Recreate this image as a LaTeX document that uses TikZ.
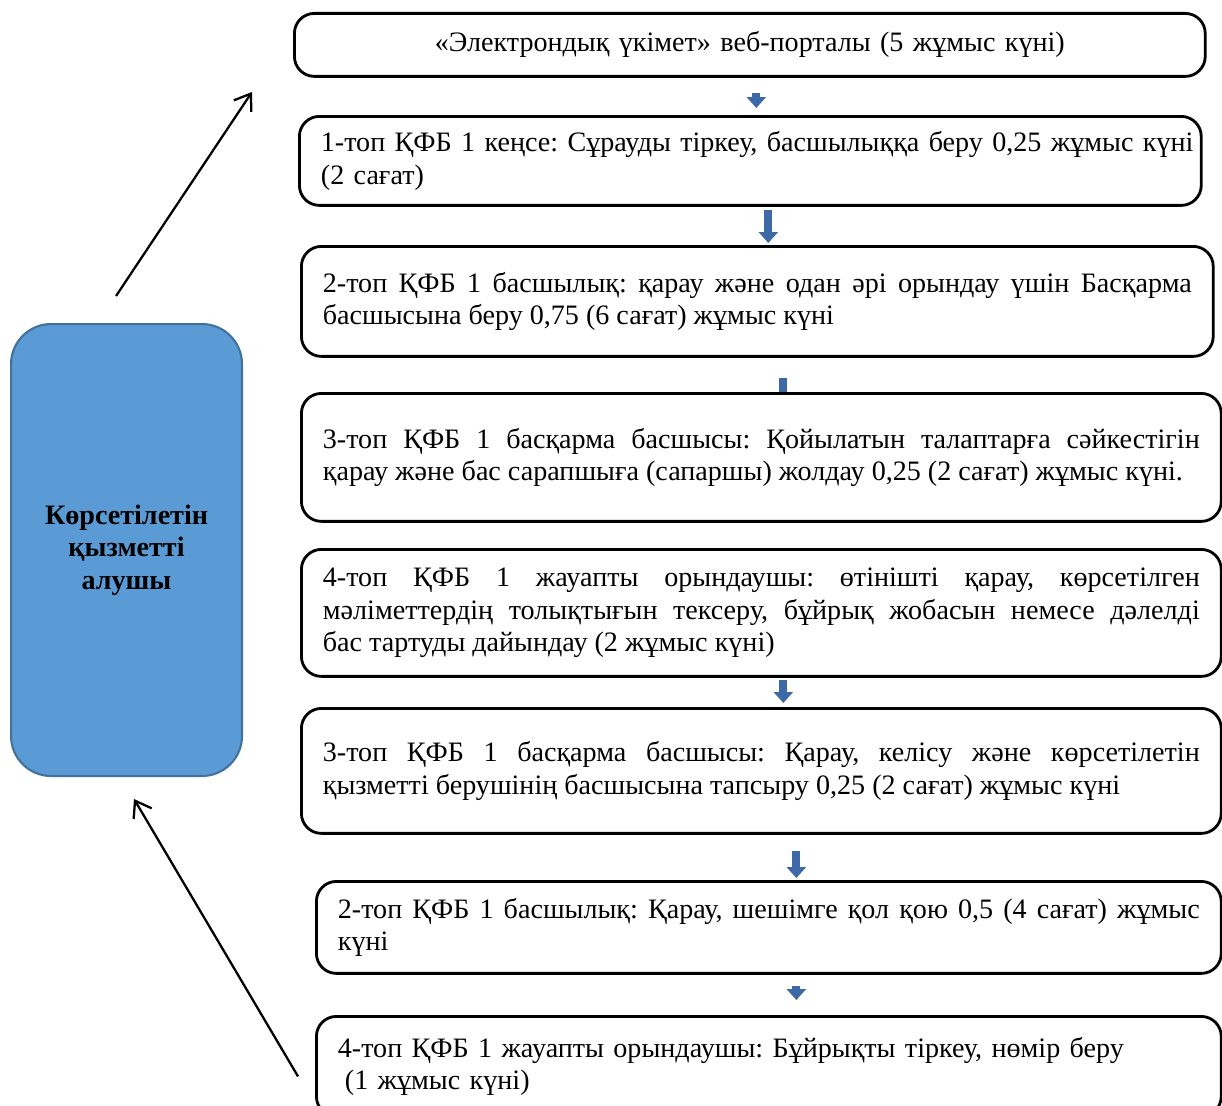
\documentclass[tikz,border=0pt]{standalone}
\usepackage{fontspec}
\setmainfont{Liberation Serif}
\usepackage{tikz}
\usetikzlibrary{positioning, arrows.meta}
\definecolor{clientblue}{HTML}{5B9BD5}
\definecolor{clientedge}{HTML}{41719C}
\definecolor{flowblue}{HTML}{3D69A7}
\frenchspacing
\newcommand{\boxfont}{\fontsize{16pt}{18.4pt}\selectfont\hyphenpenalty=10000}
\begin{document}
\begin{tikzpicture}[x=0.02cm, y=-0.02cm,
    stage/.style={draw, line width=1.6pt, rounded corners=0.4cm, anchor=north west,
      inner xsep=0.43cm, inner ysep=0pt, align=justify, font=\boxfont},
    client/.style={draw=clientedge, line width=1.2pt, fill=clientblue, rounded corners=0.8cm,
      anchor=north west, minimum width=4.62cm, minimum height=9.04cm, align=center,
      font=\boxfont\bfseries},
    flow/.style={line width=0.16cm, flowblue, -{Triangle[width=0.38cm, length=0.22cm]}},
    stub/.style={line width=0.16cm, flowblue},
    back/.style={line width=1.3pt, -{Straight Barb[length=0.3cm, width=0.42cm]}}]

		\useasboundingbox (0,0) rectangle (1222,1105);
		\clip (0,0) rectangle (1222,1105);

		% service receiver
		\node[client] (client) at (10,323) {Көрсетілетін\\қызметті\\алушы};

		% stages
		\node[stage, align=center, text width=17.36cm, minimum height=1.26cm] (b0) at (293,12)
			{«Электрондық үкімет» веб-порталы (5 жұмыс күні)};
		\node[stage, align=left, text width=17.18cm, minimum height=1.78cm] (b1) at (298,115)
			{\mbox{1-топ ҚФБ 1 кеңсе: Сұрауды тіркеу, басшылыққа беру 0,25 жұмыс күні}\\(2 сағат)};
		\node[stage, text width=17.38cm, minimum height=2.2cm] (b2) at (300,245)
			{2-топ ҚФБ 1 басшылық: қарау және одан әрі орындау үшін Басқарма\linebreak
			басшысына беру 0,75 (6 сағат) жұмыс күні};
		\node[stage, text width=17.54cm, minimum height=2.56cm] (b3) at (300,392)
			{3-топ ҚФБ 1 басқарма басшысы: Қойылатын талаптарға сәйкестігін\linebreak
			қарау және бас сарапшыға (сапаршы) жолдау 0,25 (2 сағат) жұмыс күні.};
		\node[stage, text width=17.54cm, minimum height=2.54cm] (b4) at (300,548)
			{4-топ ҚФБ 1 жауапты орындаушы: өтінішті қарау, көрсетілген\linebreak
			мәліметтердің толықтығын тексеру, бұйрық жобасын немесе дәлелді\linebreak
			бас тартуды дайындау (2 жұмыс күні)};
		\node[stage, text width=17.54cm, minimum height=2.5cm] (b5) at (300,707)
			{3-топ ҚФБ 1 басқарма басшысы: Қарау, келісу және көрсетілетін\linebreak
			қызметті берушінің басшысына тапсыру 0,25 (2 сағат) жұмыс күні};
		\node[stage, text width=17.24cm, minimum height=1.84cm] (b6) at (315,880)
			{2-топ ҚФБ 1 басшылық: Қарау, шешімге қол қою 0,5 (4 сағат) жұмыс\linebreak
			күні};
		\node[stage, align=left, text width=17.24cm, minimum height=2.0cm] (b7) at (315,1015)
			{4-топ ҚФБ 1 жауапты орындаушы: Бұйрықты тіркеу, нөмір беру\\
			\hspace*{0.25em}(1 жұмыс күні)};

		% block arrows between stages
		\path ([xshift=0.13cm]b0.south) coordinate (a01)
			([xshift=0.36cm]b1.south) coordinate (a12)
			([xshift=0.52cm]b2.south) coordinate (a23)
			([xshift=0.44cm]b4.south) coordinate (a45)
			([xshift=0.7cm]b5.south) coordinate (a56)
			([xshift=0.55cm]b6.south) coordinate (a67);
		\draw[flow, shorten <=0.3cm, shorten >=0.14cm] (a01) -- (a01 |- b1.north);
		\draw[flow, shorten <=0.06cm, shorten >=0.04cm] (a12) -- (a12 |- b2.north);
		\draw[stub, shorten <=0.4cm] (a23) -- (a23 |- b3.north);
		\draw[flow, shorten <=0.04cm, shorten >=0.08cm] (a45) -- (a45 |- b5.north);
		\draw[flow, shorten <=0.32cm, shorten >=0.04cm] (a56) -- (a56 |- b6.north);
		\draw[flow, shorten <=0.22cm, shorten >=0.3cm] (a67) -- (a67 |- b7.north);

		% links with the receiver
		\coordinate (portal) at (252,92);
		\draw[back] ([shift={(-0.21cm,0.54cm)}]client.north) -- (portal);
		\draw[back] ([shift={(-0.34cm,-0.2cm)}]b7.west) -- ([shift={(0.15cm,-0.44cm)}]client.south);
	\end{tikzpicture}
\end{document}
